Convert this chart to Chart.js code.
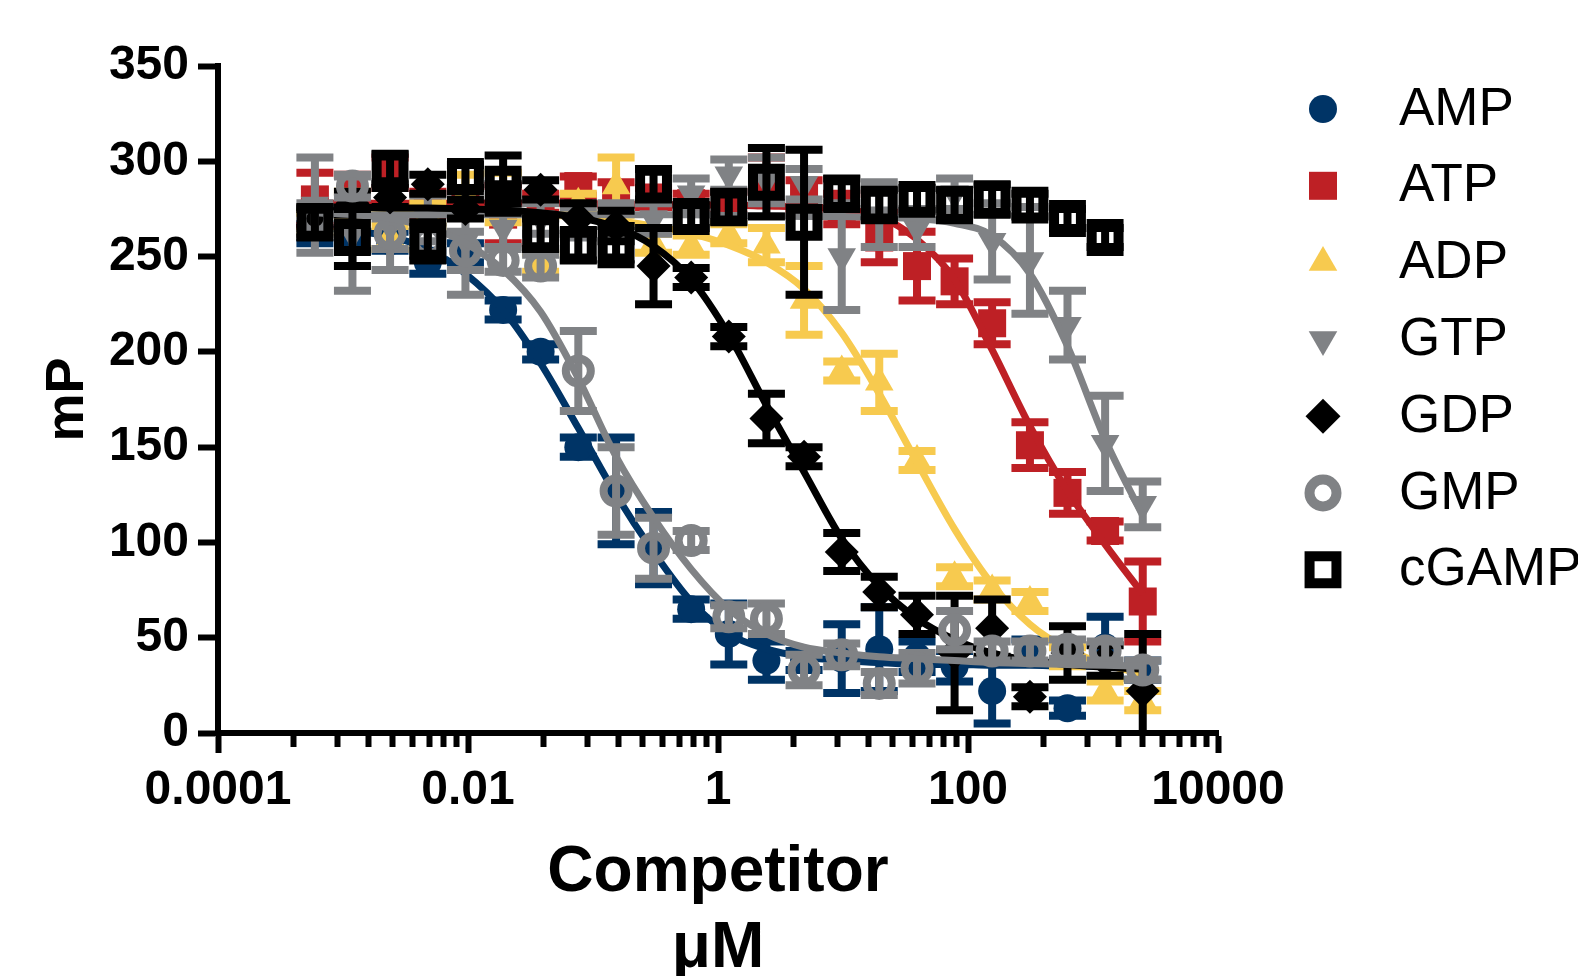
<!DOCTYPE html>
<html>
<head>
<meta charset="utf-8">
<script src="https://cdn.jsdelivr.net/npm/chart.js@4.4.1/dist/chart.umd.min.js"></script>
<style>
  html, body { margin: 0; padding: 0; background: #fff; }
  canvas { display: block; }
</style>
</head>
<body>
<canvas id="myChart" width="1578" height="976"></canvas>
<script>
// concentraciones del competidor (uM), diluciones 1:2
const conc = [0.000596, 0.00119, 0.00238, 0.00477, 0.00954, 0.0191, 0.0381, 0.0763, 0.153, 0.305, 0.610, 1.22, 2.44, 4.88, 9.77, 19.5, 39.1, 78.1, 156, 313, 625, 1250, 2500];

const ampMean = [262, 258, 258, 247, 252, 222, 200, 150, 127, 97, 65, 52, 38, 38, 39, 44, 40, 35, 22, 43, 13, 45, 33];
const ampSem  = [5, 5, 5, 6, 5, 5, 4, 5, 28, 19, 5, 16, 10, 5, 18, 22, 8, 8, 17, 6, 4, 16, 5];
const ampFit  = [265, 263.5, 260.5, 254, 241, 222, 194, 160, 125, 95, 69, 52, 44, 40, 38, 37, 36, 36, 35.5, 35.5, 35, 35, 35];

const atpMean = [280, 285, 294, 278, 280, 272, 278, 287, 283, 281, 278, 278, 290, 282, 275, 260, 245, 237, 215, 151, 126, 106, 69];
const atpSem  = [14, 8, 8, 6, 6, 15, 5, 5, 6, 5, 5, 6, 12, 8, 8, 13, 18, 12, 11, 12, 11, 5, 21];
const atpFit  = [278, 278, 278, 278, 278, 278, 278, 278, 277.5, 277.5, 277, 277, 276.5, 276, 275, 271, 259, 238, 201, 161, 127, 99, 73];

const adpMean = [268, 276, 260, 272, 283, 281, 247, 278, 287, 257, 256, 262, 256, 227, 190, 184, 143, 82, 75, 69, 40, 22, 17];
const adpSem  = [5, 8, 6, 6, 10, 13, 5, 5, 15, 5, 5, 5, 9, 18, 5, 15, 5, 5, 5, 5, 5, 5, 5];
const adpFit  = [274, 274, 273.5, 273.5, 273, 272.5, 272, 271, 269, 266, 262, 256, 247, 233, 210, 178, 142, 107, 78, 57, 44, 36, 31];

const gtpMean = [277, 262, 266, 270, 258, 265, 270, 268, 272, 270, 283, 293, 290, 288, 250, 272, 265, 283, 258, 248, 214, 152, 120];
const gtpSem  = [25, 30, 23, 12, 28, 10, 8, 8, 6, 8, 8, 8, 12, 8, 28, 17, 10, 8, 20, 28, 18, 25, 12];
const gtpFit  = [272, 272, 272, 272, 272, 272, 272, 272, 272, 272, 272, 271.5, 271.5, 271, 271, 270.5, 270, 267.5, 261, 241, 203, 154, 114];

const gdpMean = [270, 278, 281, 288, 275, 283, 285, 270, 266, 245, 239, 208, 165, 145, 95, 74, 62, 42, 55, 19, 42, 38, 22];
const gdpSem  = [5, 6, 5, 5, 5, 5, 5, 8, 8, 20, 5, 5, 13, 5, 10, 8, 10, 30, 15, 5, 14, 8, 30];
const gdpFit  = [276, 276, 275.5, 275.5, 275, 274.5, 273, 270.5, 265.5, 255.5, 238, 209, 172, 137, 102, 77, 60, 49, 42, 38, 36, 34.5, 33.5];

const gmpMean = [270, 287, 262, 258, 253, 248, 245, 190, 127, 97, 101, 61, 60, 33, 41, 26, 34, 54, 43, 43, 44, 43, 33];
const gmpSem  = [8, 6, 8, 6, 10, 6, 6, 21, 23, 16, 5, 6, 8, 8, 6, 6, 8, 10, 5, 5, 5, 5, 5];
const gmpFit  = [273, 272, 270, 265.5, 257, 243, 221, 186, 145, 113, 86, 65, 52, 45, 42, 40, 39, 38, 37, 36.5, 36, 35.5, 35];

const cgampMean = [268, 260, 296, 258, 292, 288, 262, 256, 256, 288, 271, 276, 289, 268, 283, 277, 280, 277, 280, 277, 270, 260];
const cgampSem  = [8, 15, 8, 10, 6, 15, 8, 8, 10, 8, 6, 8, 18, 38, 8, 8, 6, 8, 8, 6, 5, 5];

const seriesNames = ['AMP', 'ATP', 'ADP', 'GTP', 'GDP', 'GMP', 'cGAMP'];
const xMajorTicks = [0.0001, 0.01, 1, 100, 10000];
const xTickLabels = ['0.0001', '0.01', '1', '100', '10000'];
const xMinorSteps = [4, 9, 16, 25, 36, 49, 64, 81];

const means = [ampMean, atpMean, adpMean, gtpMean, gdpMean, gmpMean, cgampMean];
const sems = [ampSem, atpSem, adpSem, gtpSem, gdpSem, gmpSem, cgampSem];
const fits = [ampFit, atpFit, adpFit, gtpFit, gdpFit, gmpFit, null];

const NAVY = '#003466', RED = '#BE2025', GOLD = '#F7CA4F', GREY = '#808285', BLACK = '#000000';
const NONE = 'rgba(0,0,0,0)';
const FONT = "'Liberation Sans', Arial, Helvetica, sans-serif";

// estilo de cada marcador: en grafico y en leyenda
const estilos = [
  { fill: NAVY,  line: NAVY,  style: 'circle',   r: 14,   bw: 0,  rot: 0,   lr: 14,   lbw: 0 },
  { fill: RED,   line: RED,   style: 'rect',     r: 19.8, bw: 0,  rot: 0,   lr: 19.8, lbw: 0 },
  { fill: GOLD,  line: GOLD,  style: 'triangle', r: 16.5, bw: 0,  rot: 0,   lr: 16.5, lbw: 0 },
  { fill: GREY,  line: GREY,  style: 'triangle', r: 16.5, bw: 0,  rot: 180, lr: 16.5, lbw: 0 },
  { fill: BLACK, line: BLACK, style: 'rectRot',  r: 17,   bw: 0,  rot: 0,   lr: 17.5, lbw: 0 },
  { fill: NONE,  line: GREY,  style: 'circle',   r: 12.5, bw: 8,  rot: 0,   lr: 13.5, lbw: 10 },
  { fill: NONE,  line: BLACK, style: 'rect',     r: 19,   bw: 10, rot: 0,   lr: 19,   lbw: 10 }
];

const datasets = [];
seriesNames.forEach((name, k) => {
  const st = estilos[k];
  datasets.push({
    label: name,
    data: means[k].map((v, i) => ({ x: conc[i], y: v })),
    errorBars: sems[k],
    errorColor: st.line,
    showLine: false,
    pointStyle: st.style,
    pointRadius: st.r,
    pointHoverRadius: st.r,
    pointRotation: st.rot,
    pointBackgroundColor: st.fill,
    pointBorderColor: st.line,
    pointBorderWidth: st.bw,
    order: 2 * (6 - k) + 1
  });
  if (fits[k]) {
    datasets.push({
      label: name + ' fit',
      data: fits[k].map((v, i) => ({ x: conc[i], y: v })),
      showLine: true,
      borderColor: st.line,
      borderWidth: 7,
      pointRadius: 0,
      pointHoverRadius: 0,
      cubicInterpolationMode: 'monotone',
      fill: false,
      order: 2 * (6 - k)
    });
  }
});

// barras de error (media +/- SEM) con la escala y
const errorBarPlugin = {
  id: 'errorBars',
  beforeDatasetDraw(chart, args) {
    const ds = chart.data.datasets[args.index];
    if (!ds.errorBars) return;
    const ctx = chart.ctx, yScale = chart.scales.y, area = chart.chartArea;
    ctx.save();
    ctx.beginPath();
    ctx.rect(area.left, area.top, area.right - area.left, area.bottom - area.top);
    ctx.clip();
    ctx.strokeStyle = ds.errorColor;
    ctx.lineWidth = 8;
    ctx.lineCap = 'butt';
    args.meta.data.forEach((pt, i) => {
      const v = ds.data[i].y, e = ds.errorBars[i];
      const top = yScale.getPixelForValue(v + e);
      const bot = yScale.getPixelForValue(v - e);
      ctx.beginPath();
      ctx.moveTo(pt.x, top); ctx.lineTo(pt.x, bot);
      ctx.moveTo(pt.x - 18.5, top); ctx.lineTo(pt.x + 18.5, top);
      ctx.moveTo(pt.x - 18.5, bot); ctx.lineTo(pt.x + 18.5, bot);
      ctx.stroke();
    });
    ctx.restore();
  }
};

// leyenda a la derecha
const sideLegend = {
  id: 'sideLegend',
  afterDraw(chart) {
    const ctx = chart.ctx;
    ctx.save();
    ctx.font = '53px ' + FONT;
    ctx.textBaseline = 'middle';
    ctx.textAlign = 'left';
    seriesNames.forEach((name, i) => {
      const st = estilos[i];
      const y = 109 + i * 76.8;
      ctx.fillStyle = st.fill;
      ctx.strokeStyle = st.line;
      ctx.lineWidth = st.lbw;
      Chart.helpers.drawPoint(ctx, { pointStyle: st.style, radius: st.lr, rotation: st.rot, borderWidth: st.lbw }, 1323, y);
      ctx.fillStyle = '#000';
      ctx.fillText(name, 1399, y + 1);
    });
    ctx.restore();
  }
};

new Chart(document.getElementById('myChart'), {
  type: 'scatter',
  data: { datasets: datasets },
  plugins: [errorBarPlugin, sideLegend],
  options: {
    responsive: false,
    animation: false,
    events: [],
    devicePixelRatio: 1,
    layout: { padding: { top: 66, right: 360, bottom: 0, left: 0 } },
    plugins: {
      legend: { display: false },
      tooltip: { enabled: false }
    },
    scales: {
      x: {
        type: 'logarithmic',
        position: 'bottom',
        weight: 1,
        min: 0.0001,
        max: 10000,
        afterBuildTicks: s => { s.ticks = xMajorTicks.map(v => ({ value: v })); },
        afterFit: s => { s.height = 243; },
        ticks: {
          autoSkip: false,
          maxRotation: 0,
          padding: 9,
          color: '#000',
          font: { family: FONT, size: 48, weight: 'bold' },
          callback: (value, index) => xTickLabels[index]
        },
        grid: { drawOnChartArea: false, tickLength: 20, tickWidth: 6, tickColor: '#000' },
        border: { display: true, width: 6, color: '#000' },
        title: {
          display: true,
          text: ['Competitor', 'μM'],
          color: '#000',
          font: { family: FONT, size: 64, weight: 'bold', lineHeight: 1.18 },
          padding: { top: 0, bottom: -11 }
        }
      },
      xMinor: {
        type: 'logarithmic',
        position: 'bottom',
        weight: 0,
        min: 0.0001,
        max: 10000,
        afterBuildTicks: s => {
          const t = [];
          [0.0001, 0.01, 1, 100].forEach(base => xMinorSteps.forEach(k => t.push({ value: base * k })));
          s.ticks = t;
        },
        afterFit: s => { s.height = 0; },
        ticks: { display: false },
        grid: { drawOnChartArea: false, tickLength: 14, tickWidth: 6, tickColor: '#000' },
        border: { display: false }
      },
      y: {
        min: 0,
        max: 350,
        afterFit: s => { s.width = 218; },
        ticks: {
          stepSize: 50,
          padding: 9,
          color: '#000',
          font: { family: FONT, size: 48, weight: 'bold' }
        },
        grid: { drawOnChartArea: false, tickLength: 20, tickWidth: 6, tickColor: '#000' },
        border: { display: true, width: 6, color: '#000' },
        title: {
          display: true,
          text: 'mP',
          color: '#000',
          font: { family: FONT, size: 54, weight: 'bold', lineHeight: 1.2 },
          padding: { top: 36, bottom: 0 }
        }
      }
    }
  }
});
</script>
</body>
</html>
